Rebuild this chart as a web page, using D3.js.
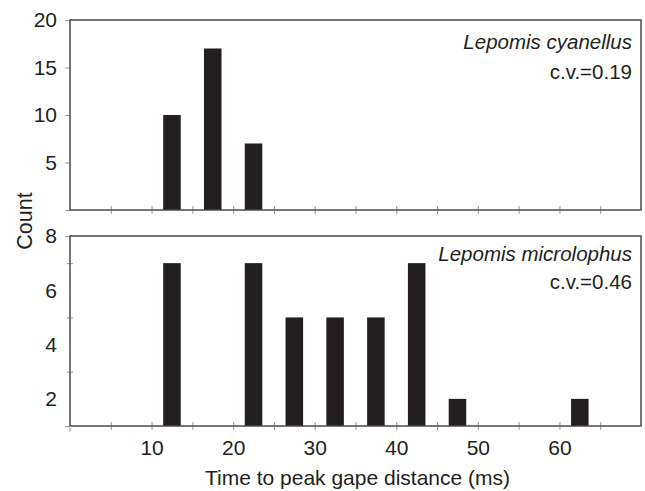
<!DOCTYPE html>
<html>
<head>
<meta charset="utf-8">
<script src="https://cdn.jsdelivr.net/npm/d3@7"></script>
<style>
  html, body { margin: 0; padding: 0; background: #fff; }
  svg { display: block; }
  text { font-family: "Liberation Sans", Arial, Helvetica, sans-serif; fill: #231f20; }
</style>
</head>
<body>
<svg id="chart" width="645" height="491"></svg>
<script>
// ---- Data ----
const topBinCenters = [12.5, 17.5, 22.5];
const topCounts = [10, 17, 7];
const bottomBinCenters = [12.5, 22.5, 27.5, 32.5, 37.5, 42.5, 47.5, 62.5];
const bottomCounts = [7, 7, 5, 5, 5, 7, 2, 2];
const xTickValues = [5, 10, 15, 20, 25, 30, 35, 40, 45, 50, 55, 60, 65];
const xLabelValues = [10, 20, 30, 40, 50, 60];
const topYTicks = [0, 5, 10, 15, 20];
const bottomYLabels = [2, 4, 6, 8];
const bottomYMinor = [3, 5, 7];
const topSpecies = "Lepomis cyanellus";
const topCV = "c.v.=0.19";
const bottomSpecies = "Lepomis microlophus";
const bottomCV = "c.v.=0.46";
const barWidthMs = 2.15;

// ---- Layout ----
const svg = d3.select("#chart");
const left = 70, right = 641;
const x = d3.scaleLinear().domain([0, 70]).range([left, right]);
const yTop = d3.scaleLinear().domain([0, 20]).range([210, 20]);
const yBot = d3.scaleLinear().domain([1, 8]).range([426, 236]);

const frameColor = "#4a4a4a";
const tickColor = "#9a9a9a";
const barColor = "#231f20";
const fmt = d3.format("d");

function panel(y, centers, counts, yLabelTicks, outTicks, minorTicks, species, cv, spY, cvY) {
  const g = svg.append("g");
  const y0 = y.range()[0], y1 = y.range()[1];

  g.selectAll("rect.bar").data(centers.map((c, i) => ({c, v: counts[i]})))
    .enter().append("rect")
    .attr("class", "bar")
    .attr("x", d => x(d.c - barWidthMs / 2))
    .attr("width", d => x(d.c + barWidthMs / 2) - x(d.c - barWidthMs / 2))
    .attr("y", d => y(d.v))
    .attr("height", d => y0 - y(d.v))
    .attr("fill", barColor);

  const xt = g.append("g").attr("transform", `translate(0,${y0 - 4})`)
    .call(d3.axisBottom(x).tickValues(xTickValues).tickSize(8).tickFormat(""));
  xt.select(".domain").remove();
  xt.selectAll("line").attr("stroke", tickColor).attr("stroke-width", 1);

  const yo = g.append("g").attr("transform", `translate(${left},0)`)
    .call(d3.axisLeft(y).tickValues(outTicks).tickSize(5).tickFormat(""));
  yo.select(".domain").remove();
  yo.selectAll("line").attr("stroke", tickColor).attr("stroke-width", 1);

  if (minorTicks.length) {
    const ym = g.append("g").attr("transform", `translate(${left + 3},0)`)
      .call(d3.axisLeft(y).tickValues(minorTicks).tickSize(6).tickFormat(""));
    ym.select(".domain").remove();
    ym.selectAll("line").attr("stroke", tickColor).attr("stroke-width", 1);
  }

  const yl = g.append("g").attr("transform", `translate(${left},0)`)
    .call(d3.axisLeft(y).tickValues(yLabelTicks).tickSize(0).tickPadding(13).tickFormat(fmt));
  yl.select(".domain").remove();
  yl.selectAll("text").attr("font-size", 21).style("font-family", "Liberation Sans, Arial, sans-serif").attr("fill", "#231f20");

  g.append("rect")
    .attr("x", left).attr("y", y1)
    .attr("width", right - left).attr("height", y0 - y1)
    .attr("fill", "none").attr("stroke", frameColor).attr("stroke-width", 1.5);

  g.append("text").attr("x", 632).attr("y", spY).attr("text-anchor", "end")
    .attr("font-size", 20.5).attr("font-style", "italic").text(species);
  g.append("text").attr("x", 632).attr("y", cvY).attr("text-anchor", "end")
    .attr("font-size", 20.5).text(cv);
}

panel(yTop, topBinCenters, topCounts, topYTicks.filter(d => d !== 0), topYTicks, [],
      topSpecies, topCV, 49, 78.5);
panel(yBot, bottomBinCenters, bottomCounts, bottomYLabels, [1, 8], bottomYMinor,
      bottomSpecies, bottomCV, 260.5, 288.5);

const xl = svg.append("g").attr("transform", `translate(0,426)`)
  .call(d3.axisBottom(x).tickValues(xLabelValues).tickSize(0).tickPadding(14).tickFormat(fmt));
xl.select(".domain").remove();
xl.selectAll("text").attr("font-size", 21).style("font-family", "Liberation Sans, Arial, sans-serif").attr("fill", "#231f20");

svg.append("line").attr("x1", x(0)).attr("x2", x(0)).attr("y1", 426).attr("y2", 432)
  .attr("stroke", tickColor);

svg.append("text").attr("x", (x(0) + x(70)) / 2 + 2).attr("y", 485)
  .attr("text-anchor", "middle").attr("font-size", 21)
  .text("Time to peak gape distance (ms)");
svg.append("text").attr("transform", "translate(32,221) rotate(-90)")
  .attr("text-anchor", "middle").attr("font-size", 21.5).text("Count");
</script>
</body>
</html>
